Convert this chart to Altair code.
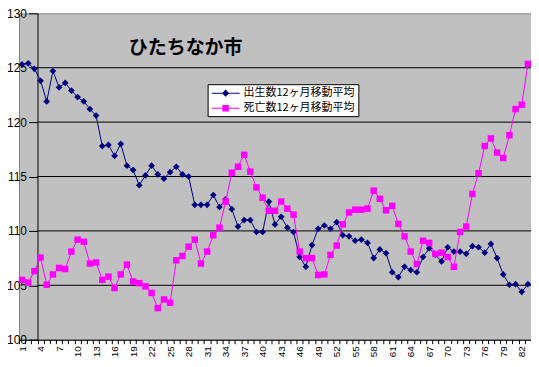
import altair as alt
import pandas as pd

months = list(range(1, 84))
births = [125.3, 125.4, 124.9, 123.8, 121.9, 124.7, 123.2, 123.6, 122.9, 122.3,
          121.9, 121.2, 120.6, 117.8, 117.9, 116.9, 118.0, 116.0, 115.6, 114.2,
          115.1, 116.0, 115.2, 114.8, 115.4, 115.9, 115.2, 115.0, 112.4, 112.4,
          112.4, 113.3, 112.2, 112.9, 112.0, 110.4, 111.0, 111.0, 109.9, 109.9,
          112.7, 110.6, 111.3, 110.3, 109.9, 107.6, 106.7, 108.7, 110.2, 110.5,
          110.2, 110.8, 109.6, 109.5, 109.1, 109.2, 108.9, 107.5, 108.3, 107.95,
          106.2, 105.75, 106.7, 106.4, 106.2, 107.6, 108.4, 107.8, 107.2, 108.5,
          108.1, 108.1, 107.9, 108.6, 108.5, 108.0, 108.8, 107.5, 106.0, 105.05,
          105.1, 104.4, 105.1]
deaths = [105.5, 105.25, 106.3, 107.55, 105.05, 106.0, 106.6, 106.5, 108.1, 109.2,
          109.0, 107.0, 107.1, 105.5, 105.8, 104.75, 106.0, 106.9, 105.35, 105.2,
          104.9, 104.3, 102.9, 103.7, 103.4, 107.3, 107.7, 108.55, 109.2, 107.0,
          108.1, 109.6, 110.3, 112.7, 115.35, 115.9, 117.0, 115.45, 114.0, 113.05,
          111.85, 111.85, 112.7, 112.05, 111.5, 108.1, 107.5, 107.5, 105.95, 106.0,
          107.8, 108.65, 110.6, 111.7, 111.95, 111.95, 112.05, 113.7, 112.95, 111.9,
          112.3, 110.65, 109.5, 108.1, 106.95, 109.1, 108.9, 107.9, 108.0, 107.6,
          106.7, 109.9, 110.4, 113.4, 115.3, 117.8, 118.5, 117.2, 116.7, 118.8,
          121.2, 121.6, 125.35]
series_names = ["出生数12ヶ月移動平均", "死亡数12ヶ月移動平均"]
series_colors = ["#000080", "#FF00FF"]
y_ticks = [100, 105, 110, 115, 120, 125, 130]
grid_values = [105, 110, 115, 120, 125]
title_text = "ひたちなか市"

df = pd.DataFrame({
    "month": months * 2,
    "value": births + deaths,
    "series": [series_names[0]] * len(months) + [series_names[1]] * len(months),
})
grid_df = pd.DataFrame({"value": grid_values})

n = len(months)
xscale = alt.Scale(domain=[0.5, n + 0.5], nice=False, zero=False)
yscale = alt.Scale(domain=[100, 130], nice=False, zero=False)

plot_w = 513
step = plot_w / n

xaxis = alt.Axis(
    values=[i + 0.5 for i in range(0, n + 1)],
    labelExpr="(datum.value - 0.5) % 3 == 1 ? '' + (datum.value - 0.5) : ''",
    labelAngle=270, labelOffset=-step / 2, tickSize=4, tickColor="black",
    domainColor="black", labelFont="Liberation Sans", labelFontSize=10,
    labelPadding=2, labelOverlap=False, labelColor="black", grid=False, title=None,
)
yaxis = alt.Axis(
    values=y_ticks, offset=-3 * step, tickSize=9, tickColor="black",
    domainColor="black", labelFont="Liberation Sans", labelFontSize=12,
    labelPadding=2, labelColor="black", grid=False, title=None, format="d",
)

X = alt.X("month:Q", scale=xscale, axis=xaxis)
Y = alt.Y("value:Q", scale=yscale, axis=yaxis)

grid = alt.Chart(grid_df).mark_rule(color="black", strokeWidth=1).encode(
    y=Y,
    x=alt.XDatum(3.5, scale=xscale, axis=xaxis),
    x2=alt.X2Datum(n + 0.5),
)

base = alt.Chart(df)
layers = [grid]
shapes = ["diamond", "square"]
sizes = [45, 42]
for name, col, shp, sz in zip(series_names, series_colors, shapes, sizes):
    sub = base.transform_filter(alt.datum.series == name)
    layers.append(sub.mark_line(color=col, strokeWidth=1).encode(x=X, y=Y))
    layers.append(sub.mark_point(shape=shp, filled=True, color=col, size=sz, opacity=1).encode(x=X, y=Y))

path_d = "M-2.33,-0.085H2.33V0.085H-2.33Z M0,-0.6L0.6,0L0,0.6L-0.6,0Z"
path_s = "M-2.33,-0.085H2.33V0.085H-2.33Z M-0.54,-0.54H0.54V0.54H-0.54Z"
leg = alt.Legend(
    title=None, orient="none", legendX=189, legendY=71, direction="vertical",
    fillColor="white", strokeColor="black", padding=3, rowPadding=4,
    symbolSize=144, symbolOffset=9, labelOffset=12, symbolStrokeWidth=0,
    symbolOpacity=1, labelFont="Noto Sans CJK JP", labelFontSize=11,
    labelColor="black", labelLimit=300, cornerRadius=0,
)
legend_layer = base.transform_filter("false").mark_point(filled=True).encode(
    x=X, y=Y,
    color=alt.Color("series:N", scale=alt.Scale(domain=series_names, range=series_colors), legend=leg),
    shape=alt.Shape("series:N", scale=alt.Scale(domain=series_names, range=[path_d, path_s]), legend=leg),
)
layers.append(legend_layer)

chart = alt.layer(*layers).properties(
    width=plot_w, height=327,
    padding={"left": 11, "top": 5, "right": 0, "bottom": 24},
    autosize=alt.AutoSizeParams(type="none"),
    title=alt.TitleParams(
        title_text, anchor="start", frame="group", dx=110, dy=59.5, offset=0,
        baseline="middle", font="Noto Sans CJK JP", fontSize=19,
        fontWeight="bold", color="black",
    ),
).configure(background="white").configure_view(
    fill="#C0C0C0", stroke="#808080", strokeWidth=1
)

chart.save("out.html", embed_options={"renderer": "svg", "actions": False})
